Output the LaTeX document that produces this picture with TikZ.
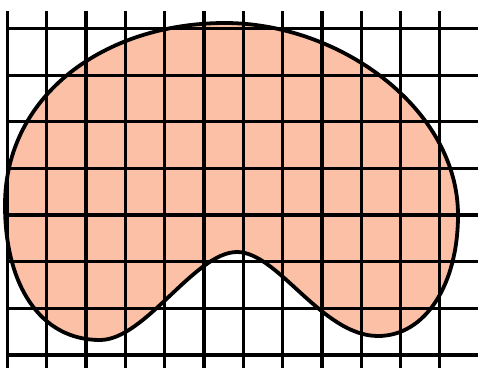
\documentclass[tikz,border=0pt]{standalone}
\definecolor{blobfill}{RGB}{251,192,166}
\begin{document}
\begin{tikzpicture}[
x=1pt, y=-1pt,
gridline/.style={line width=3.3pt, black},
blob/.style={line width=3.8pt, black}
]
\clip (0,0) rectangle (478,367);
% outline of the blob, clockwise from its leftmost point
\def\blobpath{(5,205) .. controls (5,95) and (105,23) .. (225,23)
  .. controls (340,23) and (458,109) .. (458,215)
  .. controls (458,285) and (425,336) .. (378,336)
  .. controls (322,336) and (278,252) .. (237,252)
  .. controls (195,252) and (145,340) .. (100,340)
  .. controls (40,340) and (5,285) .. (5,205) -- cycle}
\fill[blobfill] \blobpath;
\foreach \i in {0,...,11}
  \draw[gridline] ({7.5+39.3*\i},11) -- ({7.5+39.3*\i},370);
\foreach \j in {0,...,7}
  \draw[gridline] (6,{28.5+46.65*\j}) -- (480,{28.5+46.65*\j});
\draw[blob] \blobpath;
\end{tikzpicture}
\end{document}
